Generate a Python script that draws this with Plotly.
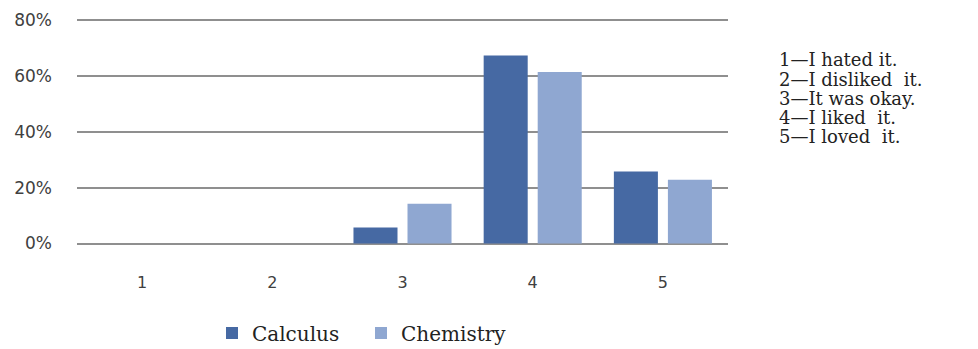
import plotly.graph_objects as go

categories = ["1", "2", "3", "4", "5"]
calculus = [0.0, 0.0, 0.057, 0.674, 0.258]
chemistry = [0.0, 0.0, 0.143, 0.615, 0.229]
series_names = ["Calculus", "Chemistry"]
colors = ["#4669A3", "#8FA7D1"]
y_ticks = [0, 0.2, 0.4, 0.6, 0.8]
scale_notes = ["1\u2014I hated it.", "2\u2014I disliked  it.", "3\u2014It was okay.",
               "4\u2014I liked  it.", "5\u2014I loved  it."]

OFF = 8                      # page body margin in the browser
W, H = 978 - OFF, 349 - OFF
x_left_px, x_right_px = 77 - OFF, 728 - OFF
y0_px, y80_px = 244 - OFF, 20 - OFF   # rows of 0% and 80%
L, R = x_left_px, W - x_right_px
px_per_unit = (y0_px - y80_px) / 0.8
pad_units = 1.5 / px_per_unit
T, B = y80_px - 1.5, H - y0_px - 1.5
plot_h = H - T - B
plot_w = W - L - R
y_lo, y_hi = -pad_units, 0.8 + pad_units


def py(px):
    return (H - B - (px - OFF)) / plot_h


def pxx(px):
    return ((px - OFF) - L) / plot_w


fig = go.Figure()
for name, vals, col in zip(series_names, [calculus, chemistry], colors):
    fig.add_trace(go.Bar(x=categories, y=vals, name=name, marker=dict(color=col, line=dict(width=0))))

note_y_px = [59, 79, 98, 117, 137]
annotations = []
for txt, ypx in zip(scale_notes, note_y_px):
    annotations.append(dict(
        text=txt, xref="paper", yref="paper",
        x=pxx(777), y=py(ypx),
        xanchor="left", yanchor="middle", showarrow=False,
        font=dict(family="DejaVu Serif", size=18, color="#222222")))

fig.update_layout(
    width=W, height=H,
    margin=dict(l=L, r=R, t=T, b=B, pad=0, autoexpand=False),
    paper_bgcolor="white", plot_bgcolor="white",
    barmode="group", bargap=0.17, bargroupgap=0.185,
    showlegend=True,
    legend=dict(orientation="h", x=pxx(212), xanchor="left",
                y=py(334), yanchor="middle",
                font=dict(family="DejaVu Serif", size=20, color="#222222"),
                entrywidth=104, entrywidthmode="pixels", itemclick=False),
    xaxis=dict(type="category", showgrid=False, showline=False, zeroline=False,
               ticks="", ticklabelstandoff=26,
               tickfont=dict(family="DejaVu Sans", size=16, color="#404040")),
    yaxis=dict(range=[y_lo, y_hi], tickvals=y_ticks, tickformat=".0%",
               showgrid=True, gridcolor="#8f8f8f", gridwidth=1.5,
               zeroline=False, showline=False, ticks="", ticklabelstandoff=24,
               tickfont=dict(family="DejaVu Sans", size=17, color="#404040")),
    annotations=annotations,
)

fig.write_html("out.html")
